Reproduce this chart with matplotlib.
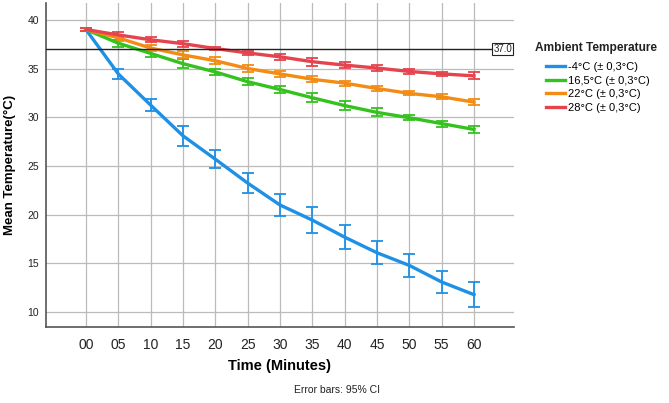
import matplotlib
matplotlib.use("Agg")
import matplotlib.pyplot as plt
import numpy as np

plt.rcParams['font.family'] = ['Liberation Sans', 'DejaVu Sans']

time_labels = ["00", "05", "10", "15", "20", "25", "30", "35", "40", "45", "50", "55", "60"]
series_names = ["-4°C (± 0,3°C)", "16,5°C (± 0,3°C)", "22°C (± 0,3°C)", "28°C (± 0,3°C)"]
colors = ["#1E90E6", "#35C21F", "#F28C14", "#E5434E"]

blue_mean = [39.0, 34.45, 31.25, 28.1, 25.7, 23.25, 21.0, 19.45, 17.7, 16.1, 14.8, 13.1, 11.8]
blue_err = [0.2, 0.55, 0.65, 1.0, 0.95, 1.0, 1.1, 1.3, 1.2, 1.2, 1.2, 1.15, 1.3]
green_mean = [39.0, 37.6, 36.55, 35.5, 34.65, 33.65, 32.85, 32.0, 31.2, 30.5, 29.95, 29.35, 28.75]
green_err = [0.15, 0.35, 0.4, 0.45, 0.3, 0.35, 0.35, 0.45, 0.5, 0.4, 0.25, 0.3, 0.4]
orange_mean = [39.0, 38.15, 37.1, 36.4, 35.8, 35.0, 34.45, 33.9, 33.5, 32.95, 32.45, 32.1, 31.55]
orange_err = [0.15, 0.3, 0.3, 0.35, 0.35, 0.35, 0.3, 0.3, 0.25, 0.25, 0.2, 0.25, 0.3]
red_mean = [39.0, 38.45, 37.95, 37.55, 37.05, 36.6, 36.2, 35.7, 35.35, 35.05, 34.7, 34.45, 34.25]
red_err = [0.15, 0.25, 0.25, 0.3, 0.2, 0.2, 0.3, 0.4, 0.3, 0.3, 0.25, 0.2, 0.35]
ref_value = 37.0

means = [blue_mean, green_mean, orange_mean, red_mean]
errs = [blue_err, green_err, orange_err, red_err]

fig = plt.figure(figsize=(6.69, 4.03), dpi=100)
ax = fig.add_axes([0.069, 0.189, 0.699, 0.803])
x = np.arange(len(time_labels))

for m, e, c, n in zip(means, errs, colors, series_names):
    ax.errorbar(x, m, yerr=e, color=c, lw=2.4, elinewidth=1.3, capsize=4,
                capthick=1.3, label=n, zorder=3)

ax.axhline(ref_value, color="#222222", lw=1.0, zorder=4)
ax.text(13.18, ref_value, f"{ref_value:.1f}", fontsize=7, ha="right", va="center",
        color="#222222", zorder=5,
        bbox=dict(boxstyle="square,pad=0.1", fc="white", ec="#222222", lw=0.8))

ax.set_xlim(-1.23, 13.23)
ax.set_ylim(8.5, 41.7)
ax.set_xticks(x)
ax.set_xticklabels(time_labels, fontsize=10, color="#222222")
ax.set_yticks([10, 15, 20, 25, 30, 35, 40])
ax.tick_params(axis='y', labelsize=7.5, length=0, pad=5, colors="#222222")
ax.tick_params(axis='x', length=0, pad=8)
ax.grid(True, color="#BBBBBB", lw=0.9, zorder=0)
ax.set_axisbelow(True)
for s in ["top", "right"]:
    ax.spines[s].set_visible(False)
ax.spines["left"].set_color("#555555")
ax.spines["bottom"].set_color("#555555")
ax.spines["left"].set_linewidth(1.2)
ax.spines["bottom"].set_linewidth(1.2)

ax.set_ylabel("Mean Temperature(°C)", fontsize=9.5, fontweight="bold", labelpad=8)
ax.set_xlabel("Time (Minutes)", fontsize=10.5, fontweight="bold", labelpad=5)
fig.text(0.503, 0.032, "Error bars: 95% CI", fontsize=7.5, ha="center", va="center", color="#222222")

fig.text(535 / 669, 1 - 48 / 403, "Ambient Temperature", fontsize=8.6, fontweight="bold",
         ha="left", va="center", color="#222222")
handles = [plt.Line2D([0], [0], color=c, lw=2.4) for c in colors]
leg = fig.legend(handles, series_names, loc="upper left",
                 bbox_to_anchor=(546 / 669, 1 - 62 / 403), frameon=False, fontsize=8.0,
                 handlelength=1.7, handletextpad=0.25, labelspacing=0.33,
                 borderpad=0, borderaxespad=0)

fig.savefig("out.png", dpi=100)
